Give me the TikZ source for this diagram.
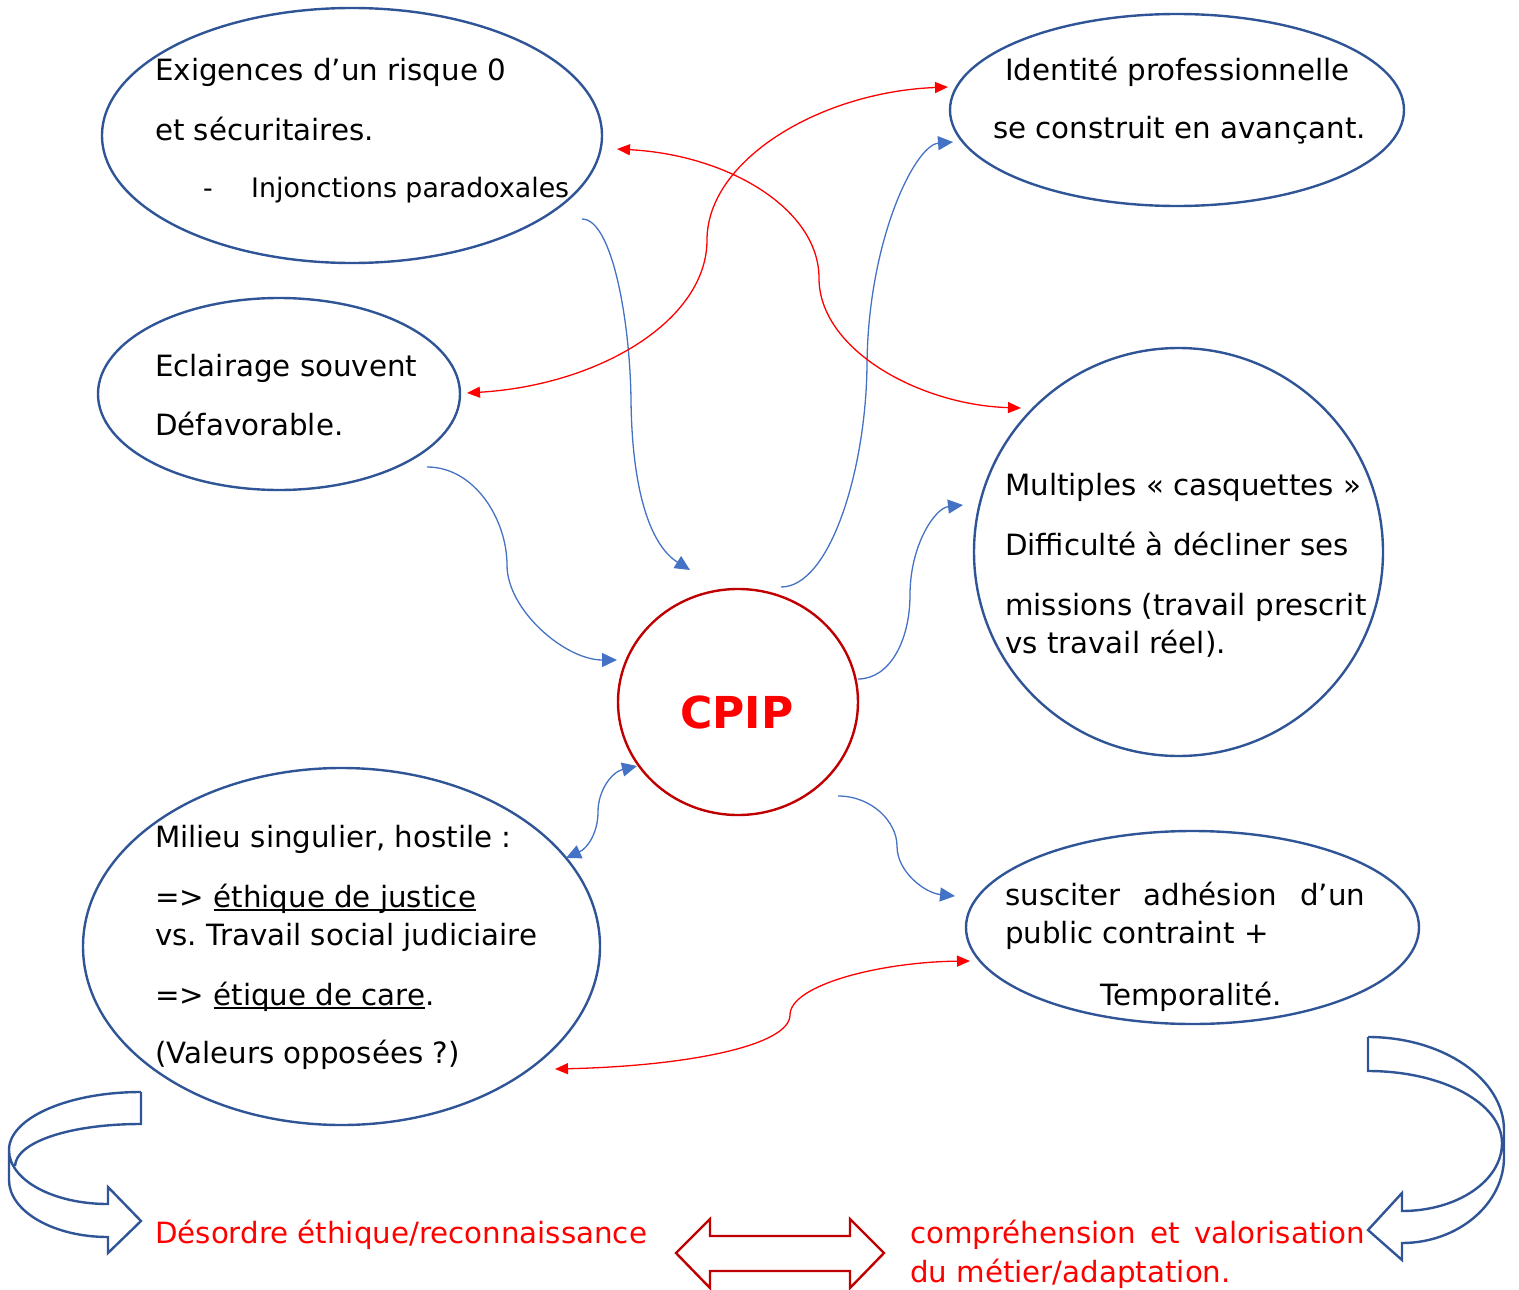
\documentclass[tikz,border=0pt]{standalone}
\usepackage{fontspec}
\setmainfont{DejaVu Sans}
\usetikzlibrary{shapes.geometric,arrows.meta}
\definecolor{ellblue}{HTML}{2F5597}
\definecolor{conblue}{HTML}{4472C4}
\definecolor{darkred}{HTML}{C00000}
\definecolor{brightred}{HTML}{FF0000}
\frenchspacing
\newcommand\myul[1]{\setbox0\hbox{#1}\rlap{\rule[-3.5pt]{\wd0}{1.6pt}}\box0}
\begin{document}
\begin{tikzpicture}[x=1pt,y=-1pt,
  ell/.style={ellipse,draw=ellblue,line width=2.4pt,inner sep=0pt},
  txt/.style={anchor=base west,inner sep=0pt,font=\fontsize{29.3}{34}\selectfont},
  smalltxt/.style={anchor=base west,inner sep=0pt,font=\fontsize{26.8}{30}\selectfont},
  redtxt/.style={txt,text=brightred},
  bcon/.style={draw=conblue,line width=1.3pt,-{Triangle[length=15pt,width=14pt]}},
  bbcon/.style={draw=conblue,line width=1.3pt,{Triangle[length=15pt,width=14pt]}-{Triangle[length=15pt,width=14pt]}},
  rcon/.style={draw=brightred,line width=1.3pt,{Triangle[length=13pt,width=11pt]}-{Triangle[length=13pt,width=11pt]}},
  blockarrow/.style={draw=ellblue,line width=2.4pt,line join=miter}
]
\useasboundingbox (0,0) rectangle (1519,1290);

% ellipses
\node[ell,minimum width=500pt,minimum height=255pt] (ex) at (352,135.5) {};
\node[ell,minimum width=454pt,minimum height=192pt] (id) at (1177,110) {};
\node[ell,minimum width=362pt,minimum height=192pt] (ec) at (279,394) {};
\node[ell,minimum width=409pt,minimum height=408pt] (mu) at (1178.5,552) {};
\node[ellipse,draw=darkred,line width=2.4pt,inner sep=0pt,minimum width=240pt,minimum height=226pt] (cp) at (738,702) {};
\node[ell,minimum width=517pt,minimum height=357pt] (mi) at (341.5,946.5) {};
\node[ell,minimum width=453pt,minimum height=193pt] (su) at (1192.5,927.5) {};

% texts
\node[txt] (t1) at (155,81) {Exigences d’un risque 0};
\node[txt] (t2) at (155,140) {et sécuritaires.};
\node[smalltxt] (t3) at (203,197) {-};
\node[smalltxt] (t4) at (251,197) {Injonctions paradoxales};
\node[txt] (t5) at (1005,81) {Identité professionnelle};
\node[txt] (t6) at (993,139) {se construit en avançant.};
\node[txt] (t7) at (155,376) {Eclairage souvent};
\node[txt] (t8) at (155,435) {Défavorable.};
\node[txt] (t9) at (1005,495) {Multiples «~casquettes~»};
\node[txt] (t10) at (1005,555) {Difficulté à décliner ses};
\node[txt] (t11) at (1005,615) {missions (travail prescrit};
\node[txt] (t12) at (1005,653) {vs travail réel).};
\node[txt] (t13) at (155,847) {Milieu singulier, hostile :};
\node[txt] (t14) at (155,907) {=> \myul{éthique de justice}};
\node[txt] (t15) at (155,945) {vs. Travail social judiciaire};
\node[txt] (t16) at (155,1005) {=> \myul{étique de care}.};
\node[txt] (t17) at (155,1063) {(Valeurs opposées ?)};
\node[txt] (t18) at (1005,905) {\hbox to 360pt{susciter\hfil adhésion\hfil d’un}};
\node[txt] (t19) at (1005,943) {public contraint +};
\node[txt] (t20) at (1100,1005) {Temporalité.};
\node[anchor=base,inner sep=0pt,font=\fontsize{44}{50}\bfseries\selectfont,text=brightred] (cpip) at (737,728) {CPIP};
\node[redtxt] (t21) at (155,1243) {Désordre éthique/reconnaissance};
\node[redtxt] (t22) at (910,1243) {\hbox to 455pt{compréhension\hfil et\hfil valorisation}};
\node[redtxt] (t23) at (910,1282) {du métier/adaptation.};

% connector end points
\coordinate (exA) at (582,219);
\coordinate (cpA) at (690,570);
\coordinate (ecA) at (427,467);
\coordinate (cpB) at (617,660);
\coordinate (cpC) at (781,587);
\coordinate (idA) at (953,142);
\coordinate (cpD) at (858,679);
\coordinate (muA) at (963,505);
\coordinate (cpE) at (838,796);
\coordinate (suA) at (955,896);
\coordinate (miA) at (566,858);
\coordinate (cpF) at (637,766);
\coordinate (ecB) at (467,393);
\coordinate (idB) at (948,87);
\coordinate (exB) at (617,149);
\coordinate (muB) at (1021,408);
\coordinate (miB) at (555,1069);
\coordinate (suB) at (970,961);

% blue connectors
\draw[bcon] (exA) .. controls (612,219) and (630,320) .. (631,400) .. controls (632,490) and (650,545) .. (cpA);
\draw[bcon] (ecA) .. controls (475,467) and (507,520) .. (507,565) .. controls (507,610) and (565,660) .. (cpB);
\draw[bcon] (cpC) .. controls (830,587) and (866,470) .. (867,365) .. controls (868,240) and (915,145) .. (idA);
\draw[bcon] (cpD) .. controls (890,679) and (910,640) .. (910,595) .. controls (910,545) and (935,508) .. (muA);
\draw[bcon] (cpE) .. controls (872,796) and (897,822) .. (897,846) .. controls (897,872) and (925,893) .. (suA);
\draw[bbcon] (miA) .. controls (588,848) and (598,832) .. (598,812) .. controls (598,790) and (612,772) .. (cpF);

% red connectors
\draw[rcon] (ecB) .. controls (600,385) and (707,320) .. (707,240) .. controls (707,160) and (820,92) .. (idB);
\draw[rcon] (exB) .. controls (730,155) and (819,210) .. (819,278) .. controls (819,350) and (920,405) .. (muB);
\draw[rcon] (miB) .. controls (690,1066) and (790,1045) .. (790,1015) .. controls (790,985) and (880,962) .. (suB);

% left curved block arrow
\draw[blockarrow] (141,1092) .. controls (68,1092) and (9,1118) .. (9,1150) -- (9,1180)
  .. controls (9,1211) and (53,1237) .. (108,1237) -- (108,1253) -- (141,1221) -- (108,1187) -- (108,1204)
  .. controls (53,1204) and (9,1180) .. (9,1150);
\draw[blockarrow] (141,1092) -- (141,1124) .. controls (70,1124) and (16,1142) .. (15,1166);

% right curved block arrow
\draw[blockarrow] (1368,1037) .. controls (1443,1037) and (1504,1079) .. (1504,1130) -- (1504,1157)
  .. controls (1504,1204) and (1458,1243) .. (1402,1243) -- (1402,1260) -- (1368,1230) -- (1402,1193) -- (1402,1211)
  .. controls (1457,1211) and (1502,1181) .. (1502,1143);
\draw[blockarrow] (1368,1037) -- (1368,1071) .. controls (1442,1071) and (1502,1103) .. (1502,1143);

% double block arrow
\draw[draw=darkred,line width=2.4pt,line join=miter] (676,1253) -- (710,1219) -- (710,1236) -- (850,1236) -- (850,1219) -- (884,1253) -- (850,1288) -- (850,1271) -- (710,1271) -- (710,1288) -- cycle;
\end{tikzpicture}
\end{document}
